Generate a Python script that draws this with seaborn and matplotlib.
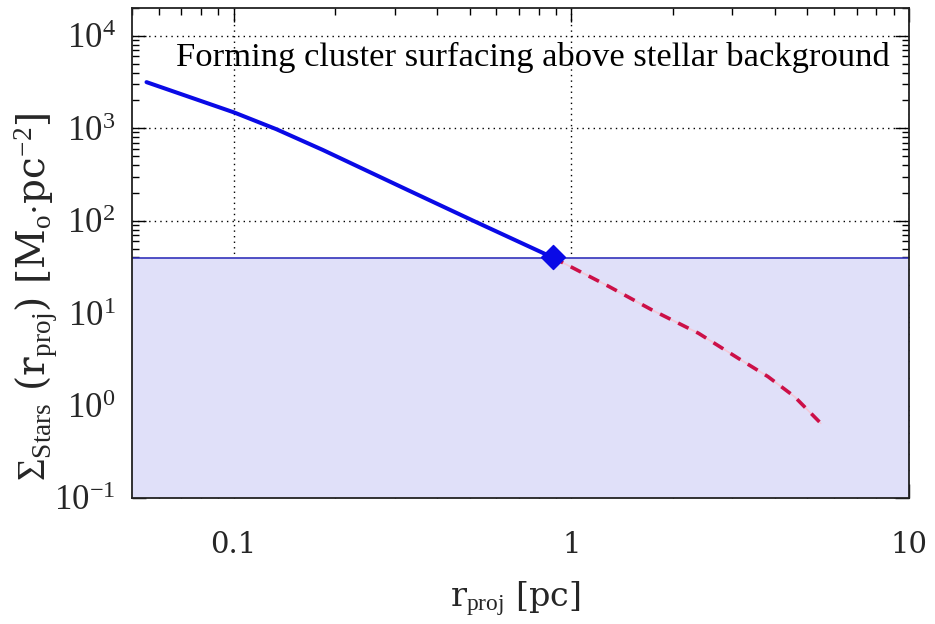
import numpy as np
import pandas as pd
import matplotlib
matplotlib.use("Agg")
import matplotlib.pyplot as plt
import matplotlib.ticker as mticker
import seaborn as sns

# ---- data ----
r_cluster = [0.0552, 0.1005, 0.1337, 0.1836, 0.3266, 0.512, 0.881]
sigma_cluster = [3155, 1479, 978, 583, 216, 100, 40.0]
r_outer = [0.881, 1.293, 1.735, 2.38, 3.12, 3.82, 4.58, 5.48]
sigma_outer = [40.0, 19.4, 10.8, 6.06, 3.25, 2.06, 1.25, 0.643]
sigma_background = 39.0
surfacing_r = [0.881]
surfacing_sigma = [40.0]
x_ticks = [0.1, 1, 10]
x_ticklabels = ["0.1", "1", "10"]
y_ticks = [1e-1, 1e0, 1e1, 1e2, 1e3, 1e4]
y_ticklabels = [r"$10^{-1}$", r"$10^{0}$", r"$10^{1}$", r"$10^{2}$", r"$10^{3}$", r"$10^{4}$"]
title_text = "Forming cluster surfacing above stellar background"

sns.set_theme(style="ticks")
plt.rcParams["font.family"] = ["Liberation Serif", "DejaVu Serif"]
plt.rcParams["mathtext.fontset"] = "custom"
plt.rcParams["mathtext.rm"] = "Liberation Serif"
plt.rcParams["mathtext.it"] = "Liberation Serif:italic"

fig = plt.figure(figsize=(9.35, 6.24), dpi=100)
ax = fig.add_axes([132/935, 1-498/624, (909-132)/935, (498-8)/624])
ax.set_xscale("log")
ax.set_yscale("log")
ax.set_xlim(0.05, 10)
ax.set_ylim(0.1, 2e4)

# grid (dotted) under the background fill
ax.grid(True, which="major", linestyle=(0, (1, 3)), color="black", linewidth=1.0, zorder=0)

# stellar background shaded region
ax.axhspan(0.1, sigma_background, facecolor="#e0e0f9", edgecolor="none", zorder=1)
ax.axhline(sigma_background, color="#3333bb", linewidth=1.2, zorder=2)

df_c = pd.DataFrame({"r": r_cluster, "s": sigma_cluster})
df_o = pd.DataFrame({"r": r_outer, "s": sigma_outer})
sns.lineplot(data=df_c, x="r", y="s", ax=ax, color="#0a0ae6", linewidth=2.9,
             sort=False, estimator=None, zorder=3)
# faint halo under the dashes, then the dashes
sns.lineplot(data=df_o, x="r", y="s", ax=ax, color="#f4c8d8", linewidth=1.2,
             sort=False, estimator=None, zorder=3)
sns.lineplot(data=df_o, x="r", y="s", ax=ax, color="#cc1048", linewidth=2.6,
             linestyle=(0, (3.2, 2.4)), sort=False, estimator=None, zorder=3)
sns.scatterplot(x=surfacing_r, y=surfacing_sigma, ax=ax, marker="D", s=150,
                color="#0a0ae6", edgecolor="#0a0ae6", zorder=4)

ax.set_xticks(x_ticks)
ax.set_xticklabels(x_ticklabels, fontsize=21, family="DejaVu Serif")
ax.set_yticks(y_ticks)
ax.set_yticklabels(y_ticklabels, fontsize=25)
ax.xaxis.set_minor_locator(mticker.LogLocator(base=10, subs=np.arange(2, 10), numticks=20))
ax.yaxis.set_minor_locator(mticker.LogLocator(base=10, subs=np.arange(2, 10), numticks=20))
ax.xaxis.set_minor_formatter(mticker.NullFormatter())
ax.yaxis.set_minor_formatter(mticker.NullFormatter())
ax.tick_params(which="both", direction="in", top=True, right=True, color="black")
ax.tick_params(which="major", length=10, width=1.0)
ax.tick_params(which="minor", length=5, width=1.0)
ax.tick_params(axis="x", pad=24)
ax.tick_params(axis="y", pad=12)
for sp in ax.spines.values():
    sp.set_color("#222222")
    sp.set_linewidth(1.3)
    sp.set_zorder(5)

ax.set_xlabel(r"r$_{\rm proj}$ [pc]", fontsize=24, family="DejaVu Serif")
ax.xaxis.set_label_coords(0.493, -0.165)
ax.set_ylabel(r"$\Sigma_{\rm Stars}$ (r$_{\rm proj}$) [M$_{\rm o}$$\cdot$pc$^{-2}$]",
              fontsize=28, family="DejaVu Serif")
ax.yaxis.set_label_coords(-0.094, 0.41)

ax.text(0.975, 0.882, title_text, transform=ax.transAxes, ha="right", va="baseline",
        fontsize=24.8, color="black", zorder=6)

fig.savefig("out.png", dpi=100)
